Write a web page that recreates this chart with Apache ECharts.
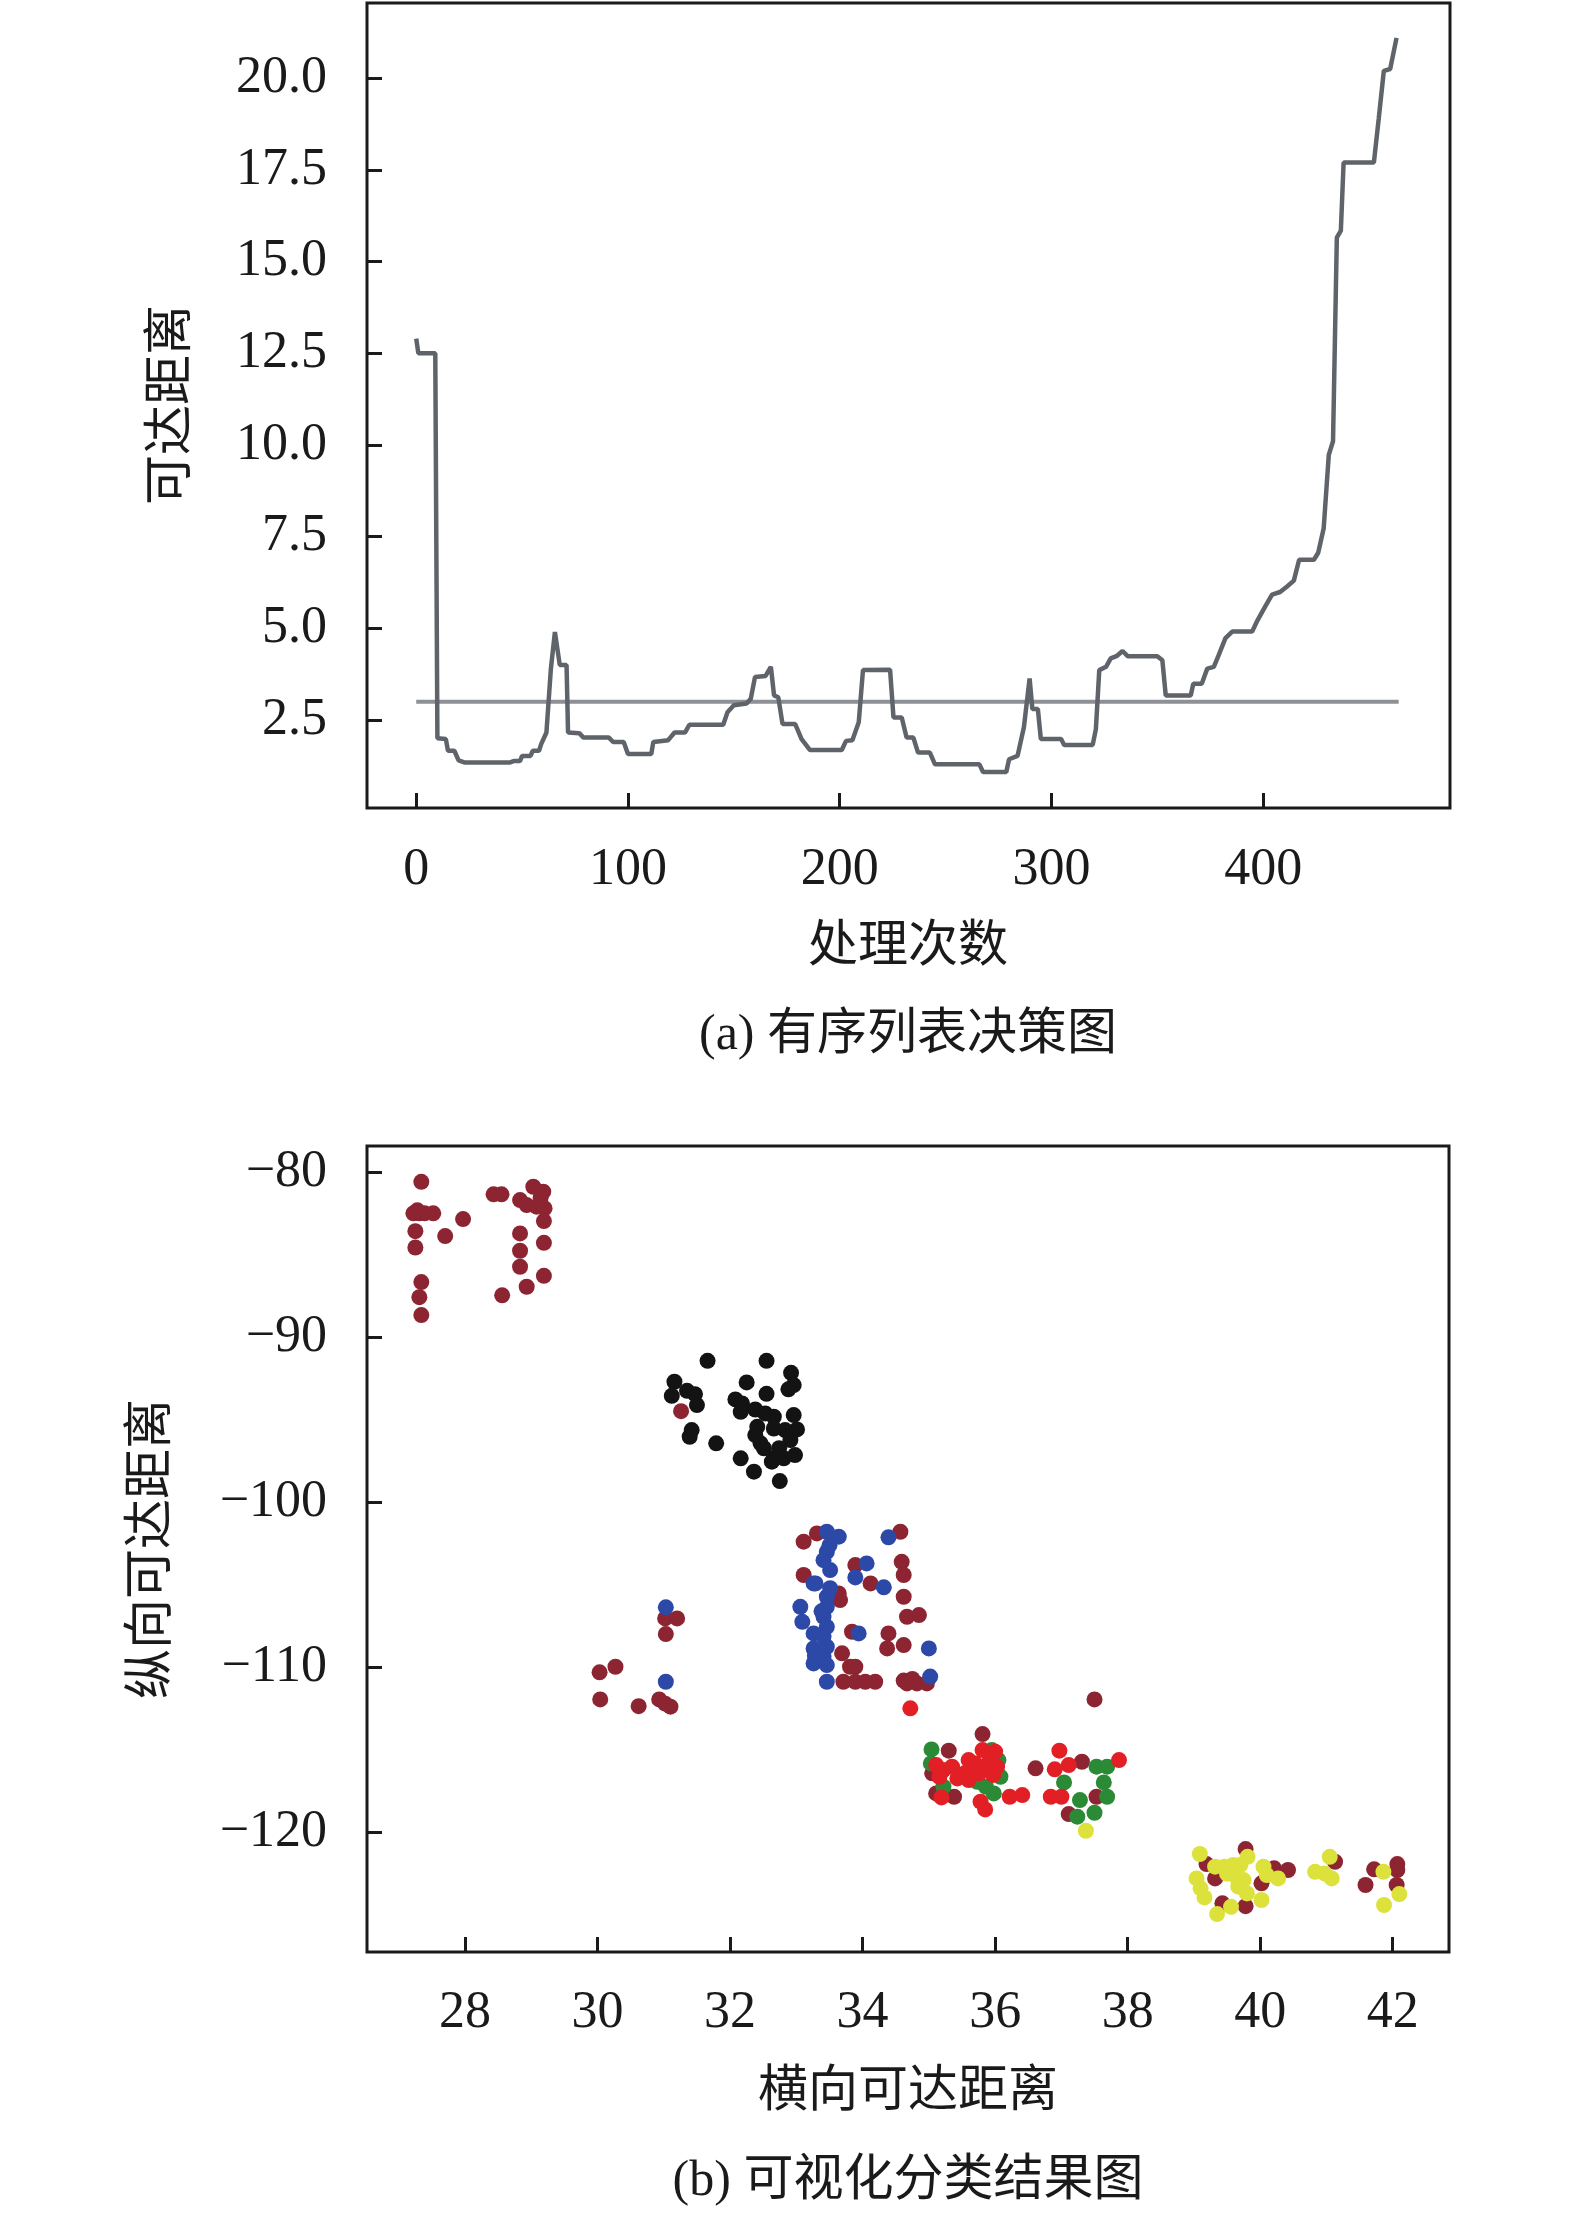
<!DOCTYPE html>
<html>
<head>
<meta charset="utf-8">
<script src="https://cdn.jsdelivr.net/npm/echarts@6/dist/echarts.min.js"></script>
<style>
  html, body { margin: 0; padding: 0; background: #fff; }
  #chart { width: 1575px; height: 2220px; }
</style>
</head>
<body>
<div id="chart"></div>
<script>
// (a) ordered reachability plot as [index, distance] vertices
const reachPts = [
  [0, 12.9], [1, 12.5], [9, 12.5], [10, 2.0], [14, 1.98], [15, 1.66], [18, 1.66], [20, 1.4],
  [23, 1.34], [44, 1.34], [46, 1.38], [49, 1.38], [50, 1.52], [54, 1.52], [55, 1.66], [58, 1.66],
  [59, 1.84], [61.5, 2.16], [63.6, 3.9], [65.5, 4.9], [66.2, 4.95], [67.8, 4.0], [71, 4.0],
  [71.7, 2.16], [77, 2.14], [79, 2.02], [91, 2.02], [93, 1.9], [98, 1.9], [100, 1.57], [111, 1.57],
  [112, 1.9], [119, 1.95], [122, 2.16], [127, 2.16], [129, 2.37], [145, 2.37], [147, 2.71],
  [150, 2.9], [156, 2.95], [158, 3.08], [160, 3.67], [165, 3.7], [167.5, 3.95], [169, 3.17],
  [171, 3.12], [173, 2.39], [179, 2.39], [182, 1.98], [186, 1.68], [201, 1.68], [203, 1.93],
  [206, 1.95], [209, 2.44], [211, 3.86], [223.8, 3.87], [225.4, 2.57], [229.3, 2.57],
  [231.6, 2.02], [234.8, 2.02], [237, 1.61], [242.6, 1.61], [245, 1.29], [266, 1.29],
  [267.7, 1.08], [278.7, 1.08], [280, 1.43], [284, 1.52], [287, 2.3], [289.7, 3.63], [291, 2.8],
  [293.6, 2.8], [295, 1.98], [304.6, 1.98], [306, 1.82], [319.5, 1.82], [321, 2.25],
  [322.6, 3.86], [325.8, 3.95], [328, 4.18], [331, 4.25], [333.6, 4.38], [336, 4.24], [350, 4.24],
  [352.4, 4.13], [354, 3.17], [365.8, 3.17], [367, 3.49], [371, 3.49], [373.6, 3.9],
  [376.7, 3.95], [379, 4.27], [382.2, 4.73], [385.4, 4.91], [394.8, 4.91], [397, 5.18],
  [401, 5.6], [404.2, 5.92], [408, 5.99], [411.3, 6.14], [414.5, 6.3], [417, 6.87], [424, 6.87],
  [426, 7.06], [428.6, 7.73], [431, 9.73], [433, 10.1], [434.8, 15.65], [436.7, 15.84],
  [438, 17.7], [452.3, 17.7], [454.6, 18.9], [457, 20.2], [460, 20.25], [463, 21.1]
];
const thresholdPts = [[0, 3.0], [464, 3.0]];
const topXTicks = [0, 100, 200, 300, 400];
const topYTicks = [2.5, 5, 7.5, 10, 12.5, 15, 17.5, 20];

// (b) clustering result, [x, y] per colour
const maroonPts = [
  [27.34, -80.57], [27.22, -82.48], [27.31, -82.48], [27.39, -82.48], [27.52, -82.48], [27.28, -82.3],
  [27.97, -82.83], [27.25, -83.56], [27.70, -83.86], [27.25, -84.55], [27.34, -86.65], [27.31, -87.56],
  [27.34, -88.65], [28.43, -81.33], [28.55, -81.33], [29.03, -80.87], [29.18, -81.17], [28.83, -81.68],
  [28.93, -81.98], [29.08, -82.08], [29.20, -82.18], [29.14, -81.55], [29.19, -82.95], [28.83, -83.70],
  [29.19, -84.27], [28.83, -84.75], [28.83, -85.72], [29.19, -86.27], [28.93, -86.93], [28.56, -87.45],
  [31.26, -94.47],
  [30.03, -110.30], [30.27, -109.96], [30.04, -111.94], [30.62, -112.35], [30.93, -111.94],
  [31.10, -112.38], [31.02, -112.2], [31.02, -107.03], [31.20, -107.03], [31.03, -107.98],
  [33.11, -102.38], [33.31, -101.88], [33.11, -104.4], [33.64, -105.52], [33.66, -105.92],
  [33.69, -109.15], [33.81, -109.96], [33.89, -109.96], [33.89, -103.8], [34.12, -104.91],
  [33.84, -107.84], [33.71, -110.87], [33.89, -110.87], [34.04, -110.87], [34.19, -110.87],
  [34.57, -101.78], [34.59, -103.6], [34.62, -104.4], [34.62, -105.72], [34.67, -106.93],
  [34.85, -106.83], [34.39, -107.94], [34.37, -108.85], [34.62, -108.65], [34.67, -110.97],
  [34.82, -110.97], [34.97, -110.97], [34.62, -110.8], [34.75, -110.7],
  [37.50, -111.94], [35.30, -115.05], [35.81, -114.04], [35.11, -117.64], [35.38, -117.84],
  [35.05, -116.42], [36.61, -116.12], [37.31, -115.72], [37.53, -117.84], [37.11, -118.89],
  [39.78, -121.01], [39.19, -121.92], [39.32, -122.79], [39.43, -124.30], [39.78, -124.47],
  [40.02, -123.09], [40.21, -122.18], [40.42, -122.28], [41.13, -121.78], [41.72, -122.24],
  [41.59, -123.19], [42.07, -121.92], [42.07, -122.28], [42.06, -123.19]
];
const blackPts = [
  [31.66, -91.42], [32.55, -91.42], [32.92, -92.15], [32.96, -92.89], [32.88, -93.15], [31.16, -92.69],
  [32.25, -92.73], [31.12, -93.54], [31.35, -93.24], [31.47, -93.44], [32.55, -93.42], [31.50, -94.10],
  [32.08, -93.76], [32.18, -94.0], [32.16, -94.51], [32.38, -94.37], [32.53, -94.61], [32.66, -94.81],
  [32.96, -94.71], [32.41, -95.42], [32.66, -95.52], [32.83, -95.62], [33.01, -95.58], [32.38, -95.92],
  [31.42, -95.62], [31.39, -96.02], [31.79, -96.42], [32.46, -96.42], [32.91, -96.22], [32.51, -96.72],
  [32.74, -96.72], [32.66, -97.33], [32.81, -97.33], [32.98, -97.13], [32.16, -97.33], [32.36, -98.14],
  [32.75, -98.71], [32.63, -97.53]
];
const bluePts = [
  [31.03, -106.36], [31.03, -110.87],
  [33.46, -101.78], [33.64, -102.08], [33.46, -103.0], [33.51, -104.1], [33.26, -104.91],
  [33.46, -105.72], [33.06, -106.33], [33.46, -106.33], [33.41, -106.93], [33.09, -107.24],
  [33.46, -107.54], [33.26, -107.94], [33.41, -108.14], [33.26, -108.85], [33.46, -108.75],
  [33.41, -109.35], [33.26, -109.76], [33.46, -109.86], [33.46, -110.87], [33.29, -104.91],
  [33.51, -105.2], [33.41, -103.5], [33.5, -102.6], [33.38, -106.6], [33.28, -109.3],
  [34.39, -102.12], [34.06, -103.7], [33.89, -104.55], [34.32, -105.15], [33.94, -107.94],
  [35.0, -108.85], [35.02, -110.56]
];
const greenPts = [
  [35.04, -114.97], [35.03, -115.82], [36.05, -115.62], [36.08, -116.63], [35.73, -116.93],
  [35.86, -117.23], [35.98, -117.64], [35.22, -117.23], [37.53, -116.02], [37.69, -116.02],
  [37.04, -116.97], [37.64, -116.97], [37.69, -117.84], [37.28, -118.04], [37.24, -119.05],
  [37.50, -118.81], [35.95, -115.0]
];
const redPts = [
  [34.72, -112.48], [35.11, -115.92], [35.22, -116.22], [35.16, -116.63], [35.35, -116.02],
  [35.54, -116.42], [35.60, -115.62], [35.70, -115.82], [35.81, -115.01], [36.0, -115.11],
  [35.92, -115.62], [35.89, -116.22], [36.03, -116.02], [35.76, -116.42], [35.97, -116.52],
  [35.43, -116.73], [35.60, -116.83], [35.19, -117.88], [35.78, -118.14], [35.85, -118.61],
  [36.22, -117.84], [36.41, -117.74], [36.97, -115.05], [36.90, -116.18], [37.11, -115.92],
  [36.84, -117.84], [37.0, -117.84], [37.87, -115.62]
];
const yellowPts = [
  [37.37, -119.90],
  [39.09, -121.31], [39.81, -121.48], [39.32, -122.08], [39.46, -122.08], [39.59, -121.98],
  [39.70, -121.98], [39.04, -122.79], [39.10, -123.39], [39.16, -123.94], [39.56, -124.51],
  [39.35, -124.95], [39.67, -123.29], [39.75, -122.89], [39.64, -122.69], [40.02, -124.10],
  [40.05, -122.08], [40.10, -122.59], [40.27, -122.79], [40.83, -122.39], [40.97, -122.49],
  [41.05, -121.48], [41.08, -122.79], [41.86, -122.39], [42.10, -123.74], [41.87, -124.40],
  [39.50, -122.5], [39.80, -123.7]
];
const botXTicks = [28, 30, 32, 34, 36, 38, 40, 42];
const botYTicks = [-120, -110, -100, -90, -80];

const SERIF = "'Liberation Serif', 'Times New Roman', 'Noto Sans CJK SC', serif";
const INK = '#1a1a1a';

function axisCommon(ticks, fmt, margin) {
  return {
    axisLine: { show: false, onZero: false },
    splitLine: { show: false },
    axisTick: { show: true, inside: true, length: 15, customValues: ticks,
      lineStyle: { color: INK, width: 3 } },
    axisLabel: { show: true, customValues: ticks, margin: margin, formatter: fmt,
      color: INK, fontFamily: SERIF, fontSize: 52 }
  };
}
const minus = v => String(v).replace('-', '\u2212');

const chart = echarts.init(document.getElementById('chart'), null, { renderer: 'canvas' });
chart.setOption({
  animation: false,
  backgroundColor: '#fff',
  grid: [
    { left: 367, top: 3, width: 1083, height: 805, show: true, borderColor: INK, borderWidth: 3 },
    { left: 367, top: 1146, width: 1082, height: 806, show: true, borderColor: INK, borderWidth: 3 }
  ],
  xAxis: [
    Object.assign({ type: 'value', gridIndex: 0, min: -23.25, max: 488.25 },
      axisCommon(topXTicks, v => String(v), 36)),
    Object.assign({ type: 'value', gridIndex: 1, min: 26.52, max: 42.85 },
      axisCommon(botXTicks, v => String(v), 35))
  ],
  yAxis: [
    Object.assign({ type: 'value', gridIndex: 0, min: 0.1, max: 22.05 },
      axisCommon(topYTicks, v => v.toFixed(1), 40)),
    Object.assign({ type: 'value', gridIndex: 1, min: -127.25, max: -78.4 },
      axisCommon(botYTicks, minus, 40))
  ],
  graphic: [
    { type: 'text', x: 173, y: 405, rotation: Math.PI / 2,
      style: { text: '可达距离', font: '50px ' + SERIF, fill: INK, textAlign: 'center', textVerticalAlign: 'middle' } },
    { type: 'text', x: 908, y: 948,
      style: { text: '处理次数', font: '50px ' + SERIF, fill: INK, textAlign: 'center', textVerticalAlign: 'middle' } },
    { type: 'text', x: 908, y: 1036,
      style: { text: '(a) 有序列表决策图', font: '50px ' + SERIF, fill: INK, textAlign: 'center', textVerticalAlign: 'middle' } },
    { type: 'text', x: 153, y: 1549, rotation: Math.PI / 2,
      style: { text: '纵向可达距离', font: '50px ' + SERIF, fill: INK, textAlign: 'center', textVerticalAlign: 'middle' } },
    { type: 'text', x: 908, y: 2093,
      style: { text: '横向可达距离', font: '50px ' + SERIF, fill: INK, textAlign: 'center', textVerticalAlign: 'middle' } },
    { type: 'text', x: 908, y: 2182,
      style: { text: '(b) 可视化分类结果图', font: '50px ' + SERIF, fill: INK, textAlign: 'center', textVerticalAlign: 'middle' } }
  ],
  series: [
    { type: 'line', xAxisIndex: 0, yAxisIndex: 0, data: thresholdPts, symbol: 'none',
      lineStyle: { color: '#8d9094', width: 4 } },
    { type: 'line', xAxisIndex: 0, yAxisIndex: 0, data: reachPts, symbol: 'none',
      lineStyle: { color: '#5f646b', width: 4.5 } },
    { type: 'scatter', xAxisIndex: 1, yAxisIndex: 1, data: maroonPts, symbolSize: 16,
      itemStyle: { color: '#8c2531', opacity: 1 } },
    { type: 'scatter', xAxisIndex: 1, yAxisIndex: 1, data: blackPts, symbolSize: 16,
      itemStyle: { color: '#131313', opacity: 1 } },
    { type: 'scatter', xAxisIndex: 1, yAxisIndex: 1, data: bluePts, symbolSize: 16,
      itemStyle: { color: '#2c49a7', opacity: 1 } },
    { type: 'scatter', xAxisIndex: 1, yAxisIndex: 1, data: greenPts, symbolSize: 16,
      itemStyle: { color: '#2b8a35', opacity: 1 } },
    { type: 'scatter', xAxisIndex: 1, yAxisIndex: 1, data: redPts, symbolSize: 16,
      itemStyle: { color: '#e31f26', opacity: 1 } },
    { type: 'scatter', xAxisIndex: 1, yAxisIndex: 1, data: yellowPts, symbolSize: 16,
      itemStyle: { color: '#dce23b', opacity: 1 } }
  ]
});
</script>
</body>
</html>
